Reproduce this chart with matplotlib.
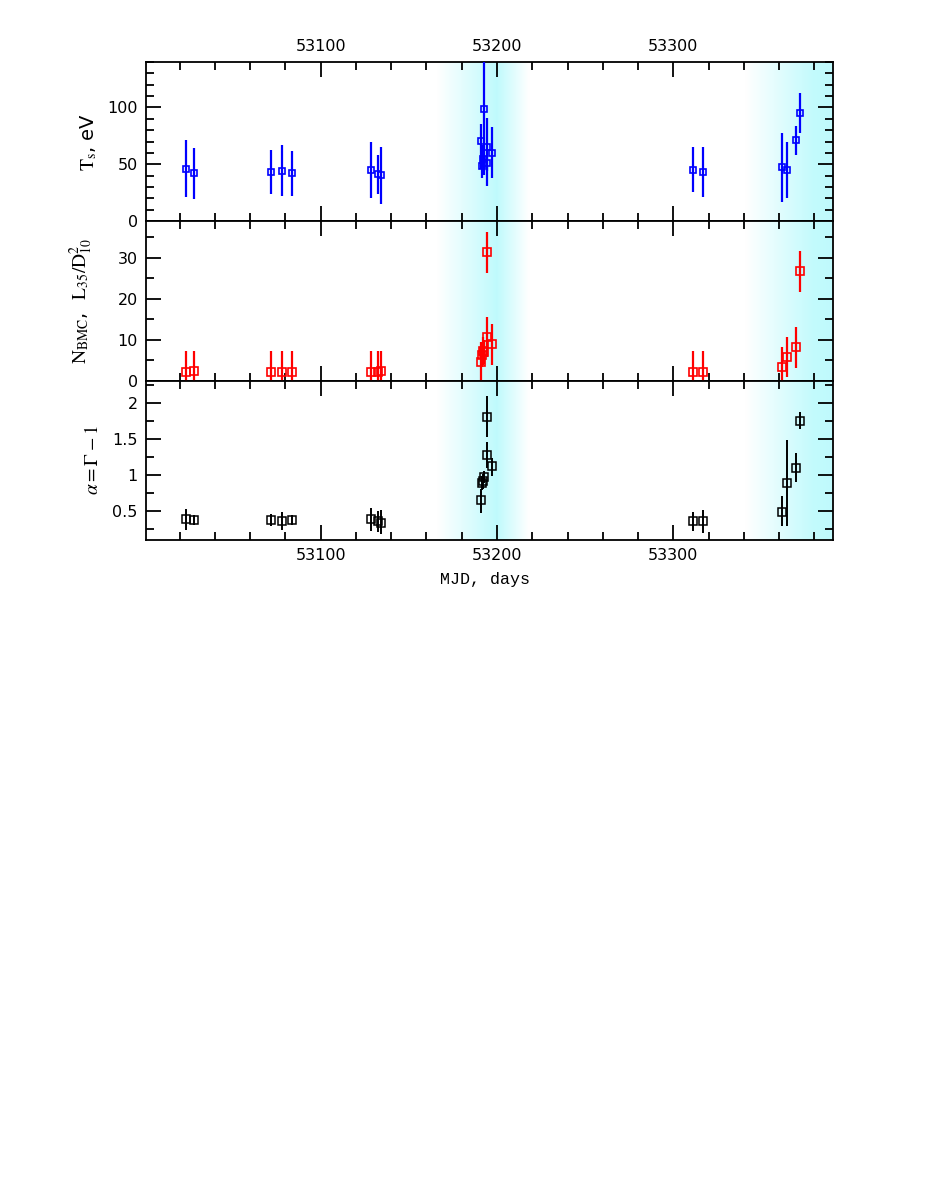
import numpy as np
import matplotlib
matplotlib.use("Agg")
import matplotlib.pyplot as plt
from matplotlib.ticker import MultipleLocator, FormatStrFormatter

plt.rcParams['font.family'] = ['DejaVu Sans']
plt.rcParams['mathtext.fontset'] = 'stix'

# MJD of observations
mjd = [53023.5, 53028.3, 53071.7, 53078.3, 53083.6, 53128.3, 53132.7, 53134.4,
       53191.2, 53191.7, 53192.1, 53192.5, 53194.2, 53194.6, 53197.3,
       53311.0, 53316.7, 53361.4, 53364.2, 53369.5, 53372.0]

# seed photon temperature, eV
ts = [46.2, 42.4, 43.2, 44.1, 42.4, 45.3, 41.5, 40.3,
      70.6, 48.0, 55.0, 98.2, 65.3, 51.2, 60.3,
      45.3, 43.2, 47.3, 45.3, 71.5, 95.0]
ts_lo = [25.4, 22.7, 19.7, 22.4, 20.1, 25.3, 18.0, 25.0,
         25.0, 10.0, 12.0, 57.3, 34.8, 7.0, 22.3,
         19.7, 22.4, 30.5, 25.0, 13.5, 17.3]
ts_hi = [24.9, 22.3, 19.7, 22.4, 19.6, 24.4, 17.0, 25.0,
         15.0, 10.0, 12.0, 50.0, 25.0, 7.0, 22.7,
         20.0, 22.1, 30.0, 24.4, 12.3, 17.6]

# BMC normalisation
nbmc = [2.3, 2.4, 2.3, 2.2, 2.2, 2.3, 2.2, 2.4,
        4.7, 6.4, 7.3, 7.1, 31.4, 10.7, 8.9,
        2.3, 2.3, 3.3, 5.9, 8.2, 26.7]
nbmc_err = [5.0, 4.9, 5.0, 5.1, 5.1, 5.0, 5.1, 4.9,
            4.7, 3.0, 3.5, 3.0, 5.0, 4.8, 5.1,
            5.0, 5.0, 5.1, 4.9, 5.0, 4.9]

# spectral index
alpha = [0.384, 0.38, 0.38, 0.36, 0.38, 0.39, 0.36, 0.34,
         0.65, 0.89, 0.91, 0.97, 1.80, 1.27, 1.12,
         0.356, 0.356, 0.49, 0.89, 1.10, 1.75]
alpha_lo = [0.14, 0.07, 0.09, 0.115, 0.07, 0.16, 0.15, 0.16,
            0.17, 0.10, 0.10, 0.08, 0.28, 0.17, 0.13,
            0.136, 0.166, 0.20, 0.60, 0.20, 0.12]
alpha_hi = [0.146, 0.06, 0.08, 0.125, 0.07, 0.155, 0.14, 0.18,
            0.16, 0.10, 0.10, 0.08, 0.29, 0.18, 0.12,
            0.134, 0.164, 0.22, 0.60, 0.20, 0.12]

xlim = (53001, 53390.5)
peak = np.array([0.75, 0.98, 0.99])

fig = plt.figure(figsize=(9.26, 11.99), dpi=100)
left, width = 146 / 926, 687 / 926
ax1 = fig.add_axes([left, 1 - 221 / 1199, width, 159 / 1199])
ax2 = fig.add_axes([left, 1 - 381 / 1199, width, 160 / 1199])
ax3 = fig.add_axes([left, 1 - 540 / 1199, width, 159 / 1199])


def shade(ax, ylim):
    # cyan gradient bands (outburst intervals)
    xg = np.linspace(xlim[0], xlim[1], 800)
    w = np.interp(xg, [53166, 53200, 53218], [0, 1, 0], left=0, right=0)
    w2 = np.interp(xg, [53341, 53380, 53391], [0, 0.95, 1], left=0, right=1)
    w = np.maximum(w, w2)
    img = 1 - w[None, :, None] * (1 - peak[None, None, :])
    ax.imshow(img, extent=[xlim[0], xlim[1], ylim[0], ylim[1]],
              aspect='auto', origin='lower', zorder=0, interpolation='bilinear')


def style(ax, ylim, ymaj, ymin):
    ax.set_xlim(*xlim)
    ax.set_ylim(*ylim)
    ax.xaxis.set_major_locator(MultipleLocator(100))
    ax.xaxis.set_minor_locator(MultipleLocator(20))
    ax.yaxis.set_major_locator(MultipleLocator(ymaj))
    ax.yaxis.set_minor_locator(MultipleLocator(ymin))
    ax.tick_params(which='both', direction='in', top=True, right=True,
                   width=1.3, labelsize=11.5, labelcolor='black', pad=6)
    ax.tick_params(which='major', length=11)
    ax.tick_params(which='minor', length=6)
    for s in ax.spines.values():
        s.set_linewidth(1.3)


# top panel
shade(ax1, (0, 140))
ax1.errorbar(mjd, ts, yerr=[ts_lo, ts_hi], fmt='s', color='blue', mfc='none',
             mec='blue', ms=4, mew=1.2, elinewidth=1.6, capsize=0, zorder=3)
style(ax1, (0, 140), 50, 10)
ax1.tick_params(labelbottom=False, labeltop=True)
ax1.set_ylabel(r'$\rm T_s$, eV', fontsize=14)
ax1.yaxis.set_label_coords(-0.068, 0.5)

# middle panel
shade(ax2, (0, 39))
ax2.errorbar(mjd, nbmc, yerr=nbmc_err, fmt='s', color='red', mfc='none',
             mec='red', ms=6, mew=1.2, elinewidth=1.6, capsize=0, zorder=3)
style(ax2, (0, 39), 10, 5)
ax2.tick_params(labelbottom=False)
ax2.set_ylabel(r'$\rm N_{BMC}$,  $\rm L_{35}/D^2_{10}$', fontsize=14)
ax2.yaxis.set_label_coords(-0.074, 0.5)

# bottom panel
shade(ax3, (0.1, 2.3))
ax3.errorbar(mjd, alpha, yerr=[alpha_lo, alpha_hi], fmt='s', color='black',
             mfc='none', mec='black', ms=6, mew=1.1, elinewidth=1.4,
             capsize=0, zorder=3)
style(ax3, (0.1, 2.3), 0.5, 0.25)
ax3.yaxis.set_major_formatter(FormatStrFormatter('%g'))
ax3.set_ylabel(r'$\alpha = \Gamma - 1$', fontsize=14)
ax3.yaxis.set_label_coords(-0.064, 0.5)
ax3.set_xlabel('MJD, days', fontsize=12, family='Liberation Mono')
ax3.xaxis.set_label_coords(0.494, -0.2)

fig.savefig('out.png', dpi=100)
